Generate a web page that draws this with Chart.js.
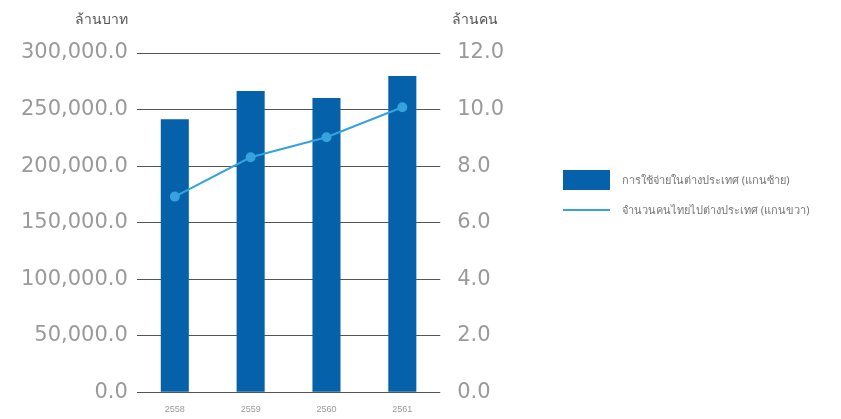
<!DOCTYPE html>
<html>
<head>
<meta charset="utf-8">
<script src="https://cdn.jsdelivr.net/npm/chart.js@4"></script>
<style>
    body { margin: 0; background: #fff; font-family: "Noto Sans", "Open Sans", sans-serif; }
    #wrap { position: relative; width: 841px; height: 419px; }
    .axisTitle { position: absolute; top: 8px; font-size: 14px; color: #555; }
    #legend { position: absolute; left: 563px; top: 170px; font-size: 11px; color: #777; }
    #legend div { display: flex; align-items: center; height: 20px; white-space: nowrap; }
    #legend div + div { margin-top: 10px; }
    #legend span.sw { display: inline-block; width: 47px; margin-right: 12px; }
</style>
</head>
<body>
<div id="wrap">
    <canvas id="chart" width="841" height="419"></canvas>
    <div class="axisTitle" style="right:713px">ล้านบาท</div>
    <div class="axisTitle" style="left:452px">ล้านคน</div>
    <div id="legend"></div>
</div>
<script>
const years = ["2558", "2559", "2560", "2561"];
const spending = [241400, 266300, 260100, 279600];
const travellers = [6.92, 8.31, 9.02, 10.08];
const seriesLabels = ["การใช้จ่ายในต่างประเทศ (แกนซ้าย)", "จำนวนคนไทยไปต่างประเทศ (แกนขวา)"];
const barColor = "#0561a9";
const lineColor = "#36a3de";

document.addEventListener("DOMContentLoaded", () => {
    const fmt = v => Number(v).toLocaleString("en-US", { minimumFractionDigits: 1, maximumFractionDigits: 1 });
    const tickFont = { family: "DejaVu Sans", size: 21 };

    new Chart(document.getElementById("chart"), {
        data: {
            labels: years,
            datasets: [
                {
                    type: "line",
                    label: seriesLabels[1],
                    data: travellers,
                    yAxisID: "yRight",
                    borderColor: lineColor,
                    backgroundColor: lineColor,
                    borderWidth: 2,
                    pointRadius: 4,
                    pointHoverRadius: 4,
                    order: 0,
                },
                {
                    type: "bar",
                    label: seriesLabels[0],
                    data: spending,
                    yAxisID: "yLeft",
                    backgroundColor: barColor,
                    barPercentage: 0.37,
                    categoryPercentage: 1,
                    order: 1,
                },
            ],
        },
        options: {
            responsive: false,
            animation: false,
            layout: { padding: { left: 12, right: 328, top: 53, bottom: 0 } },
            plugins: { legend: { display: false }, tooltip: { enabled: false } },
            scales: {
                x: {
                    grid: { display: false },
                    border: { display: false },
                    ticks: { color: "#999", font: { size: 9 }, padding: 4 },
                },
                yLeft: {
                    position: "left",
                    min: 0,
                    max: 300000,
                    border: { display: false },
                    grid: { color: "#555", lineWidth: 1, drawTicks: false },
                    ticks: { stepSize: 50000, color: "#9a9a9a", font: tickFont, padding: 9, callback: fmt },
                },
                yRight: {
                    position: "right",
                    min: 0,
                    max: 12,
                    border: { display: false },
                    grid: { display: false },
                    ticks: { stepSize: 2, color: "#9a9a9a", font: tickFont, padding: 9, callback: fmt },
                },
            },
        },
    });

    const legend = document.getElementById("legend");
    legend.innerHTML =
        `<div><span class="sw" style="height:20px;background:${barColor}"></span>${seriesLabels[0]}</div>` +
        `<div><span class="sw" style="height:2px;background:${lineColor}"></span>${seriesLabels[1]}</div>`;
});
</script>
</body>
</html>
